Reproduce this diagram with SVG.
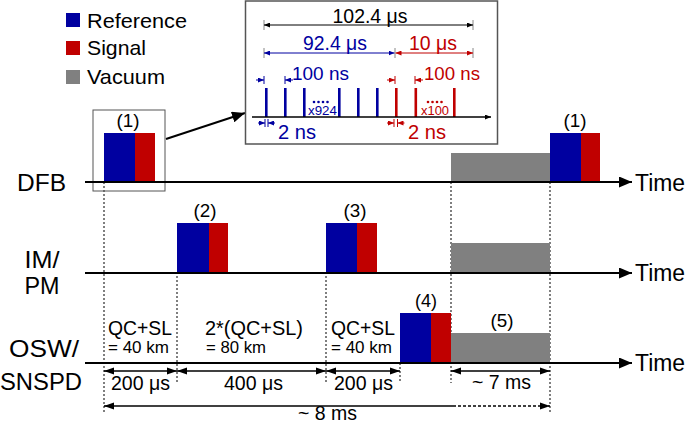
<svg xmlns="http://www.w3.org/2000/svg" width="685" height="423" viewBox="0 0 685 423">
<style>
text{font-family:"Liberation Sans",Arial,sans-serif;fill:#000}
.lg{font-size:21px}
.lab{font-size:24px;text-anchor:middle}
.tm{font-size:23px}
.num{font-size:19px;text-anchor:middle}
.qc{font-size:19.4px}
.km{font-size:17px}
.dim{font-size:19.5px;text-anchor:middle}
.b{fill:#0000a0}
.r{fill:#c00000}
.g{fill:#808080}
.bt{fill:#0000a0}
.rt{fill:#c00000}
.axis{stroke:#000;stroke-width:2;fill:none}
.dot{stroke:#555;stroke-width:1.5;stroke-dasharray:2 2;fill:none}
.dl{stroke:#000;stroke-width:1.5;fill:none}
.bl{stroke:#0000a0;stroke-width:1;fill:none}
.rl{stroke:#c00000;stroke-width:1;fill:none}
.tk{stroke:#888;stroke-width:1;fill:none}
</style>
<defs>
<marker id="ax" markerUnits="userSpaceOnUse" markerWidth="13" markerHeight="11" refX="13" refY="5.5" orient="auto"><path d="M0,0 L13,5.5 L0,11 z" fill="#000"/></marker>
<marker id="ah" markerUnits="userSpaceOnUse" markerWidth="10" markerHeight="8" refX="10" refY="4" orient="auto-start-reverse"><path d="M0,0.5 L10,4 L0,7.5 z" fill="#000"/></marker>
<marker id="bk" markerUnits="userSpaceOnUse" markerWidth="6" markerHeight="5" refX="6" refY="2.5" orient="auto-start-reverse"><path d="M0,0 L6,2.5 L0,5 z" fill="#000"/></marker>
<marker id="bb" markerUnits="userSpaceOnUse" markerWidth="6" markerHeight="5" refX="6" refY="2.5" orient="auto-start-reverse"><path d="M0,0 L6,2.5 L0,5 z" fill="#0000a0"/></marker>
<marker id="rr" markerUnits="userSpaceOnUse" markerWidth="6" markerHeight="5" refX="6" refY="2.5" orient="auto-start-reverse"><path d="M0,0 L6,2.5 L0,5 z" fill="#c00000"/></marker>
<marker id="big" markerUnits="userSpaceOnUse" markerWidth="13" markerHeight="11" refX="13" refY="5.5" orient="auto"><path d="M0,0 L13,5.5 L0,11 z" fill="#000"/></marker>
</defs>

<g id="legend">
<rect x="66" y="13" width="14" height="14" class="b"/>
<text x="87" y="28" class="lg" textLength="100" lengthAdjust="spacingAndGlyphs">Reference</text>
<rect x="66" y="41" width="14" height="14" class="r"/>
<text x="87" y="55" class="lg" textLength="59" lengthAdjust="spacingAndGlyphs">Signal</text>
<rect x="66" y="70" width="14" height="14" class="g"/>
<text x="87" y="84" class="lg" textLength="78" lengthAdjust="spacingAndGlyphs">Vacuum</text>
</g>

<g id="labels">
<text x="41.5" y="191" class="lab" textLength="49" lengthAdjust="spacingAndGlyphs">DFB</text>
<text x="42" y="268" class="lab" textLength="35" lengthAdjust="spacingAndGlyphs">IM/</text>
<text x="42" y="294" class="lab" textLength="35" lengthAdjust="spacingAndGlyphs">PM</text>
<text x="44" y="357" class="lab" textLength="70" lengthAdjust="spacingAndGlyphs">OSW/</text>
<text x="41" y="390" class="lab" textLength="82" lengthAdjust="spacingAndGlyphs">SNSPD</text>
<text x="635" y="191" class="tm" textLength="50" lengthAdjust="spacingAndGlyphs">Time</text>
<text x="635" y="281" class="tm" textLength="50" lengthAdjust="spacingAndGlyphs">Time</text>
<text x="635" y="371" class="tm" textLength="50" lengthAdjust="spacingAndGlyphs">Time</text>
</g>

<g id="dotted">
<line x1="104" y1="182" x2="104" y2="414" class="dot"/>
<line x1="177" y1="272" x2="177" y2="383" class="dot"/>
<line x1="326" y1="272" x2="326" y2="383" class="dot"/>
<line x1="400" y1="363" x2="400" y2="383" class="dot"/>
<line x1="451" y1="182" x2="451" y2="383" class="dot"/>
<line x1="550" y1="182" x2="550" y2="414" class="dot"/>
</g>

<g id="pulse1">
<rect x="104" y="133" width="31" height="49" class="b"/>
<rect x="135" y="133" width="20" height="49" class="r"/>
<text x="128" y="127" class="num" textLength="23" lengthAdjust="spacingAndGlyphs">(1)</text>
<rect x="93" y="110" width="72" height="81" fill="none" stroke="#555" stroke-width="1"/>
</g>
<g id="vacDFB"><rect x="451" y="153" width="99" height="29" class="g"/></g>
<g id="pulse1b">
<rect x="550" y="133" width="31" height="49" class="b"/>
<rect x="581" y="133" width="19" height="49" class="r"/>
<text x="575" y="127" class="num" textLength="23" lengthAdjust="spacingAndGlyphs">(1)</text>
</g>
<g id="pulse2">
<rect x="177" y="223" width="32" height="50" class="b"/>
<rect x="209" y="223" width="19" height="50" class="r"/>
<text x="205" y="217" class="num" textLength="23" lengthAdjust="spacingAndGlyphs">(2)</text>
</g>
<g id="pulse3">
<rect x="326" y="223" width="31" height="50" class="b"/>
<rect x="357" y="223" width="20" height="50" class="r"/>
<text x="355" y="217" class="num" textLength="23" lengthAdjust="spacingAndGlyphs">(3)</text>
</g>
<g id="vacIM"><rect x="451" y="243" width="99" height="30" class="g"/></g>
<g id="pulse4">
<rect x="400" y="313" width="31" height="50" class="b"/>
<rect x="431" y="313" width="20" height="50" class="r"/>
<text x="426" y="307" class="num" textLength="22" lengthAdjust="spacingAndGlyphs">(4)</text>
</g>
<g id="vac5">
<rect x="451" y="333" width="99" height="30" class="g"/>
<text x="502" y="327" class="num" textLength="23" lengthAdjust="spacingAndGlyphs">(5)</text>
</g>

<g id="axes">
<line x1="85" y1="182" x2="632" y2="182" class="axis" marker-end="url(#ax)"/>
<line x1="85" y1="273" x2="632" y2="273" class="axis" marker-end="url(#ax)"/>
<line x1="85" y1="363" x2="632" y2="363" class="axis" marker-end="url(#ax)"/>
</g>

<g id="segments">
<text x="108" y="335" class="qc" textLength="64" lengthAdjust="spacingAndGlyphs">QC+SL</text>
<text x="108" y="353" class="km" textLength="61" lengthAdjust="spacingAndGlyphs">= 40 km</text>
<text x="205" y="335" class="qc" textLength="98" lengthAdjust="spacingAndGlyphs">2*(QC+SL)</text>
<text x="206" y="353" class="km" textLength="60" lengthAdjust="spacingAndGlyphs">= 80 km</text>
<text x="331" y="335" class="qc" textLength="64" lengthAdjust="spacingAndGlyphs">QC+SL</text>
<text x="331" y="353" class="km" textLength="61" lengthAdjust="spacingAndGlyphs">= 40 km</text>
</g>

<g id="dimensions">
<line x1="104" y1="371" x2="177" y2="371" class="dl" marker-start="url(#ah)" marker-end="url(#ah)"/>
<line x1="177" y1="371" x2="326" y2="371" class="dl" marker-start="url(#ah)" marker-end="url(#ah)"/>
<line x1="326" y1="371" x2="400" y2="371" class="dl" marker-start="url(#ah)" marker-end="url(#ah)"/>
<line x1="451" y1="371" x2="550" y2="371" class="dl" marker-start="url(#ah)" marker-end="url(#ah)"/>
<line x1="104" y1="406" x2="453" y2="406" class="dl" marker-start="url(#ah)"/>
<line x1="453" y1="406" x2="550" y2="406" class="dl" stroke-dasharray="3 2" marker-end="url(#ah)"/>
<text x="140.5" y="390" class="dim" textLength="59" lengthAdjust="spacingAndGlyphs">200 μs</text>
<text x="253.5" y="390" class="dim" textLength="59" lengthAdjust="spacingAndGlyphs">400 μs</text>
<text x="363.5" y="390" class="dim" textLength="59" lengthAdjust="spacingAndGlyphs">200 μs</text>
<text x="501.5" y="389" class="dim" textLength="59" lengthAdjust="spacingAndGlyphs">~ 7 ms</text>
<text x="327.5" y="420" class="dim" textLength="59" lengthAdjust="spacingAndGlyphs">~ 8 ms</text>
</g>

<g id="zoom-arrow">
<line x1="166" y1="139" x2="245" y2="113" stroke="#000" stroke-width="2" marker-end="url(#big)"/>
</g>

<g id="inset">
<rect x="245.5" y="1" width="252" height="143" fill="#fff" stroke="#555" stroke-width="1.5"/>
<text x="370" y="23" style="font-size:20px;text-anchor:middle" textLength="75" lengthAdjust="spacingAndGlyphs">102.4 μs</text>
<line x1="264" y1="20" x2="264" y2="30" class="tk"/>
<line x1="473" y1="20" x2="473" y2="30" class="tk"/>
<line x1="264" y1="25" x2="473" y2="25" stroke="#000" stroke-width="1" marker-start="url(#bk)" marker-end="url(#bk)"/>
<text x="335" y="50" class="bt" style="font-size:20px;text-anchor:middle" textLength="64" lengthAdjust="spacingAndGlyphs">92.4 μs</text>
<text x="433" y="50" class="rt" style="font-size:20px;text-anchor:middle" textLength="48" lengthAdjust="spacingAndGlyphs">10 μs</text>
<line x1="264" y1="48" x2="264" y2="58" class="tk"/>
<line x1="395" y1="48" x2="395" y2="58" class="tk"/>
<line x1="473" y1="48" x2="473" y2="58" class="tk"/>
<line x1="264" y1="53" x2="394.5" y2="53" class="bl" marker-start="url(#bb)" marker-end="url(#bb)"/>
<line x1="395.5" y1="53" x2="473" y2="53" class="rl" marker-start="url(#rr)" marker-end="url(#rr)"/>

<text x="292" y="80" class="bt" style="font-size:19px" textLength="57" lengthAdjust="spacingAndGlyphs">100 ns</text>
<text x="424" y="80" class="rt" style="font-size:19px" textLength="56" lengthAdjust="spacingAndGlyphs">100 ns</text>
<line x1="264" y1="76" x2="264" y2="84" class="bl"/>
<line x1="285" y1="76" x2="285" y2="84" class="bl"/>
<line x1="256" y1="80" x2="264" y2="80" class="bl" marker-end="url(#bb)"/>
<line x1="293" y1="80" x2="285" y2="80" class="bl" marker-end="url(#bb)"/>
<line x1="395" y1="76" x2="395" y2="84" class="rl"/>
<line x1="415" y1="76" x2="415" y2="84" class="rl"/>
<line x1="387" y1="80" x2="395" y2="80" class="rl" marker-end="url(#rr)"/>
<line x1="423" y1="80" x2="415" y2="80" class="rl" marker-end="url(#rr)"/>

<g fill="#0000a0">
<rect x="265" y="88" width="2.6" height="29"/>
<rect x="284" y="88" width="2.6" height="29"/>
<rect x="303" y="88" width="2.6" height="29"/>
<rect x="338" y="88" width="2.6" height="29"/>
<rect x="357" y="88" width="2.6" height="29"/>
<rect x="376" y="88" width="2.6" height="29"/>
<circle cx="314" cy="102" r="1.3"/><circle cx="318.5" cy="102" r="1.3"/><circle cx="323" cy="102" r="1.3"/><circle cx="327.5" cy="102" r="1.3"/>
</g>
<g fill="#c00000">
<rect x="395" y="88" width="2.6" height="29"/>
<rect x="414.5" y="88" width="2.6" height="29"/>
<rect x="453" y="88" width="2.6" height="29"/>
<circle cx="428" cy="102" r="1.3"/><circle cx="432.5" cy="102" r="1.3"/><circle cx="437" cy="102" r="1.3"/><circle cx="441.5" cy="102" r="1.3"/>
</g>
<text x="308" y="115" class="bt" style="font-size:13px" textLength="29" lengthAdjust="spacingAndGlyphs">x924</text>
<text x="421" y="115" class="rt" style="font-size:13px" textLength="28" lengthAdjust="spacingAndGlyphs">x100</text>
<line x1="252" y1="117" x2="491" y2="117" stroke="#000" stroke-width="1.5" marker-end="url(#bk)"/>

<line x1="265" y1="119" x2="265" y2="127" class="bl"/>
<line x1="268" y1="119" x2="268" y2="127" class="bl"/>
<line x1="258" y1="123" x2="265" y2="123" class="bl" marker-end="url(#bb)"/>
<line x1="275" y1="123" x2="268" y2="123" class="bl" marker-end="url(#bb)"/>
<line x1="394" y1="119" x2="394" y2="127" class="rl"/>
<line x1="397.5" y1="119" x2="397.5" y2="127" class="rl"/>
<line x1="387" y1="123" x2="394" y2="123" class="rl" marker-end="url(#rr)"/>
<line x1="404.5" y1="123" x2="397.5" y2="123" class="rl" marker-end="url(#rr)"/>
<text x="278" y="139" class="bt" style="font-size:19.5px" textLength="38" lengthAdjust="spacingAndGlyphs">2 ns</text>
<text x="408" y="139" class="rt" style="font-size:19.5px" textLength="38" lengthAdjust="spacingAndGlyphs">2 ns</text>
</g>
</svg>
